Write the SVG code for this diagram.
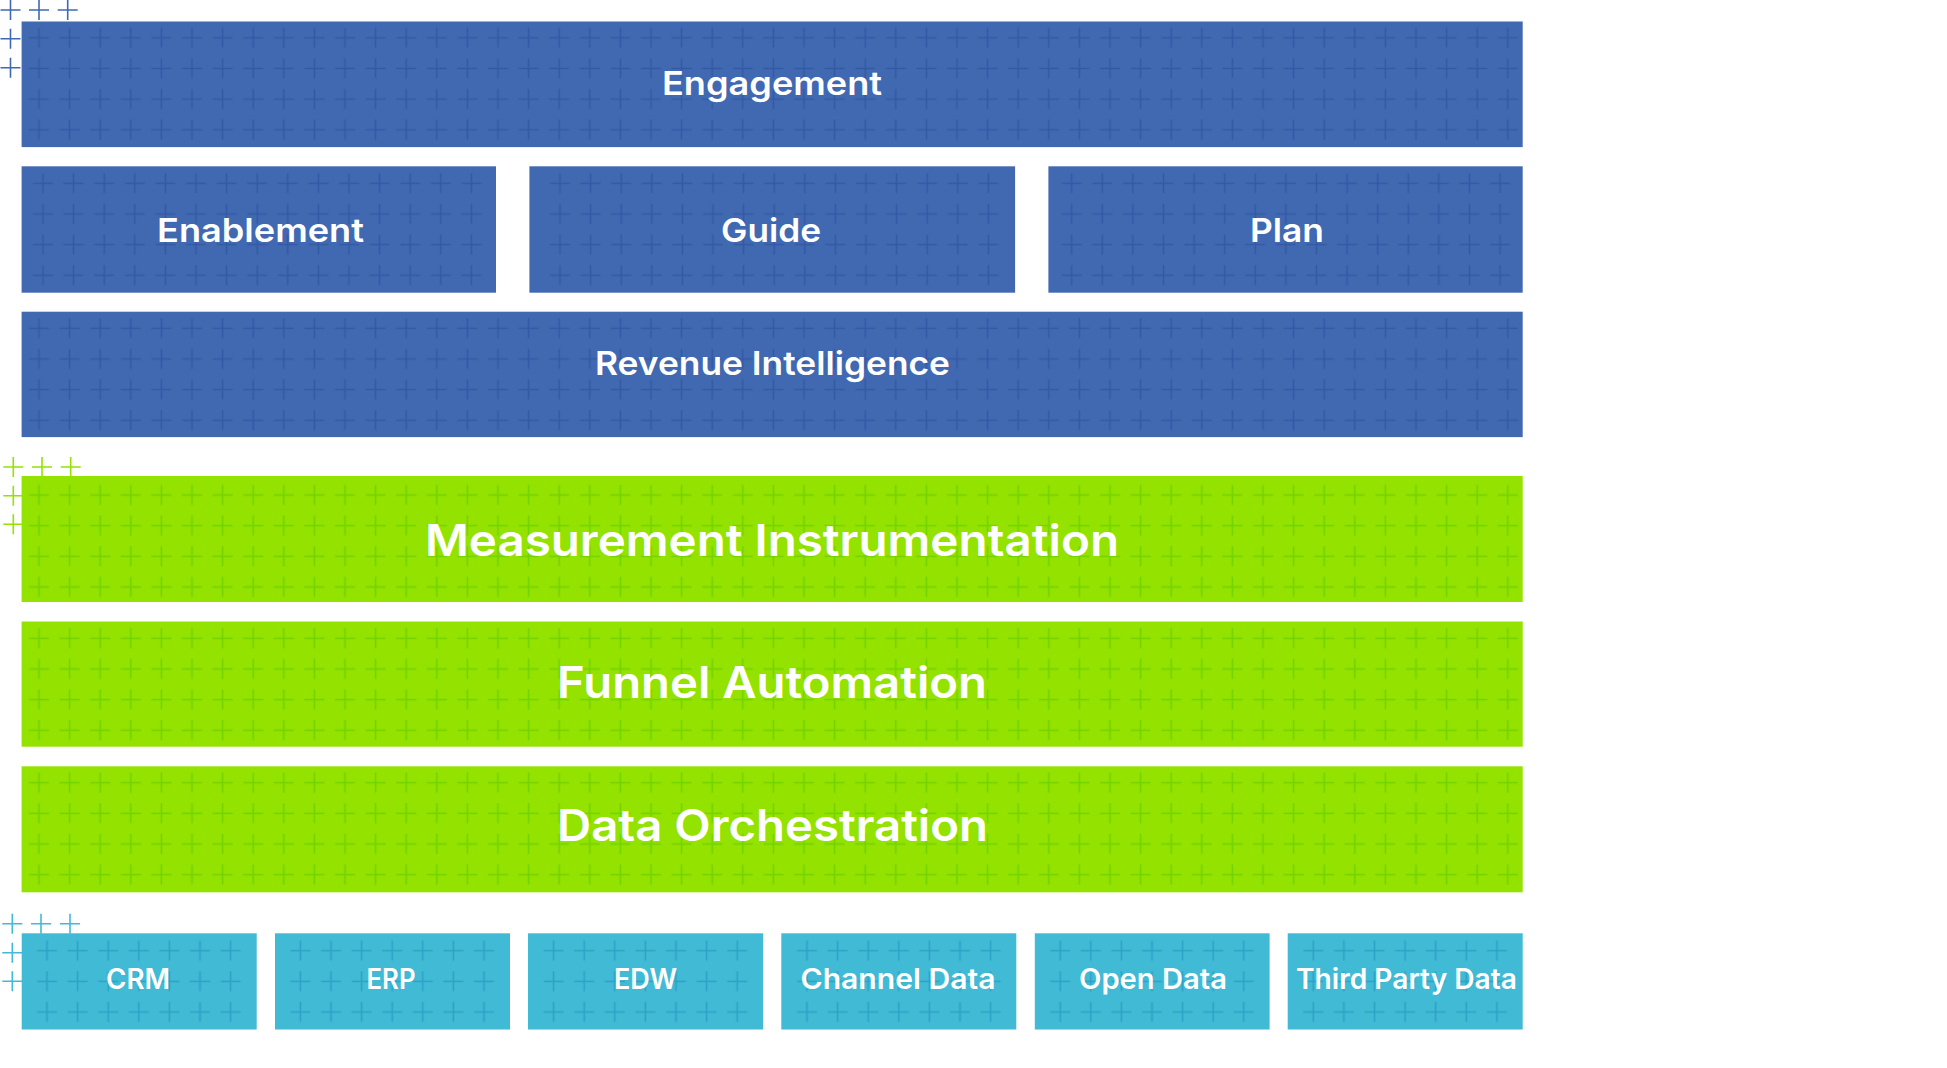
<svg xmlns="http://www.w3.org/2000/svg" xmlns:xlink="http://www.w3.org/1999/xlink" width="1947" height="1068" viewBox="0 0 1947 1068">
<style>
.b{fill:#4069B2}.g{fill:#93E200}.t{fill:#41BAD5}
.pb{fill:url(#pb)}.pg{fill:url(#pg)}.pt{fill:url(#pt)}
text{font-family:"Inter","Open Sans","Liberation Sans",sans-serif;font-weight:600;fill:#fff}
.s{font-size:33px}.l{font-size:44px}.m{font-size:28px}
.mk{fill:none;stroke-width:1.6}
</style>
<defs>
<path id="plus" d="M-10 0H10M0-10V10"/>
<pattern id="pb" patternUnits="userSpaceOnUse" width="30.6" height="30.65"><path d="M5.3 15.3H25.3M15.3 5.3V25.3" fill="none" stroke="#3459A4" stroke-width="1.6"/></pattern>
<pattern id="pg" patternUnits="userSpaceOnUse" width="30.6" height="30.65"><path d="M5.3 15.3H25.3M15.3 5.3V25.3" fill="none" stroke="#72D200" stroke-width="1.6"/></pattern>
<pattern id="pt" patternUnits="userSpaceOnUse" width="30.6" height="30.65"><path d="M5.3 15.3H25.3M15.3 5.3V25.3" fill="none" stroke="#2BA2C6" stroke-width="1.6"/></pattern>
</defs>
<rect width="1947" height="1068" fill="#fff"/>
<g id="marks-blue" class="mk" stroke="#4069B2">
<use href="#plus" x="10.5" y="10"/><use href="#plus" x="39" y="10"/><use href="#plus" x="67.7" y="10"/><use href="#plus" x="10.5" y="38.7"/><use href="#plus" x="10.5" y="67.7"/>
</g>
<g id="marks-green" class="mk" stroke="#93E200">
<use href="#plus" x="13.3" y="467"/><use href="#plus" x="42" y="467"/><use href="#plus" x="70.7" y="467"/><use href="#plus" x="13.3" y="495.7"/><use href="#plus" x="13.3" y="524.3"/>
</g>
<g id="marks-teal" class="mk" stroke="#41BAD5">
<use href="#plus" x="12.3" y="923.7"/><use href="#plus" x="41" y="923.7"/><use href="#plus" x="70" y="923.7"/><use href="#plus" x="12.3" y="952.7"/><use href="#plus" x="12.3" y="981.3"/>
</g>
<g id="engagement"><rect class="b" x="21.6" y="21.5" width="1501.1" height="125.6"/><rect class="pb" transform="translate(23.7 22.5)" width="1499.4" height="122.6"/><text class="s" x="662" y="95" textLength="220" lengthAdjust="spacingAndGlyphs">Engagement</text></g>
<g id="enablement"><rect class="b" x="21.6" y="166.3" width="474.4" height="126.4"/><rect class="pb" transform="translate(27.7 168) " width="459" height="122.6"/><text class="s" x="157" y="241.7" textLength="207" lengthAdjust="spacingAndGlyphs">Enablement</text></g>
<g id="guide"><rect class="b" x="529.4" y="166.3" width="485.7" height="126.4"/><rect class="pb" transform="translate(544.7 168)" width="459" height="122.6"/><text class="s" x="721" y="241.7" textLength="100" lengthAdjust="spacingAndGlyphs">Guide</text></g>
<g id="plan"><rect class="b" x="1048.4" y="166.3" width="474.3" height="126.4"/><rect class="pb" transform="translate(1056.4 168)" width="459" height="122.6"/><text class="s" x="1250" y="241.7" textLength="74" lengthAdjust="spacingAndGlyphs">Plan</text></g>
<g id="revenue-intelligence"><rect class="b" x="21.6" y="311.7" width="1501.1" height="125.4"/><rect class="pb" transform="translate(23.7 313)" width="1499.4" height="122.6"/><text class="s" x="595" y="374.5" textLength="355" lengthAdjust="spacingAndGlyphs">Revenue Intelligence</text></g>
<g id="measurement-instrumentation"><rect class="g" x="21.6" y="476" width="1501.1" height="126"/><rect class="pg" transform="translate(23.7 479.7)" width="1499.4" height="122"/><text class="l" x="425" y="556" textLength="694" lengthAdjust="spacingAndGlyphs">Measurement Instrumentation</text></g>
<g id="funnel-automation"><rect class="g" x="21.6" y="621.5" width="1501.1" height="125.2"/><rect class="pg" transform="translate(23.7 623)" width="1499.4" height="122.6"/><text class="l" x="557" y="698.3" textLength="430" lengthAdjust="spacingAndGlyphs">Funnel Automation</text></g>
<g id="data-orchestration"><rect class="g" x="21.6" y="766.3" width="1501.1" height="126"/><rect class="pg" transform="translate(23.7 767.4)" width="1499.4" height="122.6"/><text class="l" x="557" y="840.7" textLength="431" lengthAdjust="spacingAndGlyphs">Data Orchestration</text></g>
<g id="crm"><rect class="t" x="21.7" y="933.3" width="235" height="96.2"/><rect class="pt" transform="translate(31.7 935.4)" width="214.2" height="92"/><text class="m" x="106" y="989" textLength="64" lengthAdjust="spacingAndGlyphs">CRM</text></g>
<g id="erp"><rect class="t" x="275" y="933.3" width="235" height="96.2"/><rect class="pt" transform="translate(285.1 935.4)" width="214.2" height="92"/><text class="m" x="366.5" y="989" textLength="49" lengthAdjust="spacingAndGlyphs">ERP</text></g>
<g id="edw"><rect class="t" x="528" y="933.3" width="235.2" height="96.2"/><rect class="pt" transform="translate(538.3 935.4)" width="214.2" height="92"/><text class="m" x="614" y="989" textLength="63" lengthAdjust="spacingAndGlyphs">EDW</text></g>
<g id="channel-data"><rect class="t" x="781.3" y="933.3" width="235" height="96.2"/><rect class="pt" transform="translate(791.7 935.4)" width="214.2" height="92"/><text class="m" x="800.5" y="989" textLength="195" lengthAdjust="spacingAndGlyphs">Channel Data</text></g>
<g id="open-data"><rect class="t" x="1034.8" y="933.3" width="234.8" height="96.2"/><rect class="pt" transform="translate(1044.9 935.4)" width="214.2" height="92"/><text class="m" x="1079" y="989" textLength="148" lengthAdjust="spacingAndGlyphs">Open Data</text></g>
<g id="third-party-data"><rect class="t" x="1287.7" y="933.3" width="235" height="96.2"/><rect class="pt" transform="translate(1298 935.4)" width="214.2" height="92"/><text class="m" x="1296" y="989" textLength="221" lengthAdjust="spacingAndGlyphs">Third Party Data</text></g>
</svg>
